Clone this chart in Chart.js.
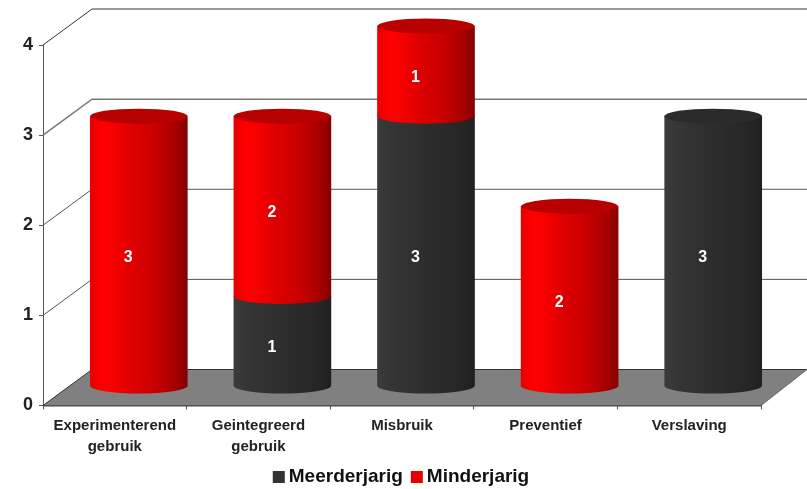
<!DOCTYPE html>
<html>
<head>
<meta charset="utf-8">
<style>html,body{margin:0;padding:0;background:#fff}canvas{display:block}</style>
<script src="https://cdn.jsdelivr.net/npm/chart.js@4/dist/chart.umd.min.js"></script>
</head>
<body>
<canvas id="c" width="807" height="489"></canvas>
<script>
const categories = [["Experimenterend","gebruik"],["Geintegreerd","gebruik"],"Misbruik","Preventief","Verslaving"];
const meerderjarig = [0,1,3,0,3];
const minderjarig = [3,2,1,2,0];
const yTicks = [0,1,2,3,4];
const FONT = '"Liberation Sans", Arial, sans-serif';
const DX = 24, DY = -19, WALLX = 49, WALLY = -36, RY = 7.5, BARW = 97;
const RED = ['#e60000','#ff0000','#fa0000','#dc0000','#cc0000','#ac0000','#880000'];
const DARK = ['#3a3a3a','#363636','#333333','#2e2e2e','#2a2a2a','#262626','#202020'];
const LEGEND_COLORS = ['#333333','#e60000'];

function grad(ctx, cx, stops){
  const g = ctx.createLinearGradient(cx-BARW/2,0,cx+BARW/2,0);
  const pos = [0,0.12,0.22,0.45,0.65,0.85,1];
  stops.forEach((c,i)=>g.addColorStop(pos[i],c));
  return g;
}
function barFill(stops){
  return function(context){
    const s = context.chart.scales.x;
    if(!s || context.dataIndex===undefined || !isFinite(s.getPixelForValue(context.dataIndex))) return stops[2];
    return grad(context.chart.ctx, s.getPixelForValue(context.dataIndex), stops);
  };
}
const scene = {
  id:'scene',
  beforeDatasetsDraw(chart){
    const {ctx, scales:{x,y}} = chart;
    const L=x.left, R=x.right, y0=y.getPixelForValue(0);
    ctx.save();
    ctx.fillStyle='#808080';
    ctx.beginPath();
    ctx.moveTo(L,y0);ctx.lineTo(L+WALLX,y0+WALLY);ctx.lineTo(807,y0+WALLY);ctx.lineTo(R,y0);ctx.closePath();
    ctx.fill();
    ctx.lineWidth=1;
    ctx.strokeStyle='#444';
    ctx.beginPath();
    ctx.moveTo(R,y0+0.5);ctx.lineTo(L,y0+0.5);
    ctx.stroke();
    yTicks.forEach(v=>{
      const p=y.getPixelForValue(v);
      ctx.strokeStyle = v===4||v===0 ? '#333' : (v===3?'#777':'#555');
      ctx.lineWidth = v===3?1.5:1;
      ctx.beginPath();
      ctx.moveTo(L,p);ctx.lineTo(L+WALLX,p+WALLY);ctx.lineTo(807,p+WALLY);
      ctx.stroke();
    });
    ctx.strokeStyle='#666';ctx.lineWidth=1;
    ctx.beginPath();ctx.moveTo(R,y0);ctx.lineTo(807,y0+WALLY);ctx.stroke();
    ctx.restore();
    ctx.save();
    ctx.translate(DX,DY);
  },
  afterDatasetsDraw(chart){
    const {ctx} = chart;
    const sets = chart.data.datasets;
    sets.forEach((ds,di)=>{
      const stops = di===0?DARK:RED;
      chart.getDatasetMeta(di).data.forEach((el,i)=>{
        if(!ds.data[i]) return;
        ctx.fillStyle = grad(ctx, el.x, stops);
        ctx.beginPath();
        ctx.ellipse(el.x, el.base, BARW/2, RY, 0, 0, Math.PI*2);
        ctx.fill();
        const higher = sets.slice(di+1).some(o=>o.data[i]);
        if(!higher){
          ctx.fillStyle = di===0?'#2b2b2b':'#b80000';
          ctx.beginPath();
          ctx.ellipse(el.x, el.y, BARW/2, RY, 0, 0, Math.PI*2);
          ctx.fill();
        }
      });
    });
    ctx.restore();
    ctx.save();
    ctx.fillStyle='#fff';
    ctx.font='bold 16px '+FONT;
    ctx.textAlign='center';ctx.textBaseline='middle';
    sets.forEach((ds,di)=>{
      chart.getDatasetMeta(di).data.forEach((el,i)=>{
        if(!ds.data[i]) return;
        ctx.fillText(String(ds.data[i]), el.x+13.5, (el.y+el.base)/2-12.5);
      });
    });
    ctx.restore();
  },
  afterDraw(chart){
    const {ctx, legend} = chart;
    if(!legend || !legend.legendHitBoxes) return;
    ctx.save();
    legend.legendHitBoxes.forEach((h,i)=>{
      ctx.fillStyle = LEGEND_COLORS[i];
      ctx.fillRect(h.left, h.top+h.height/2-6, 12, 12);
    });
    ctx.restore();
  }
};
new Chart(document.getElementById('c'),{
  type:'bar',
  data:{labels:categories,datasets:[
    {label:'Meerderjarig',data:meerderjarig,backgroundColor:barFill(DARK),borderWidth:0,barThickness:BARW,clip:false},
    {label:'Minderjarig',data:minderjarig,backgroundColor:barFill(RED),borderWidth:0,barThickness:BARW,clip:false}
  ]},
  options:{
    responsive:false,animation:false,
    layout:{padding:{top:45,right:5,left:0,bottom:-7.5}},
    plugins:{
      tooltip:{enabled:false},
      legend:{position:'bottom',labels:{
        boxWidth:6.5,boxHeight:12,padding:8,color:'#111',font:{family:FONT,size:19,weight:'bold'},
        generateLabels(chart){
          return chart.data.datasets.map((d,i)=>({text:d.label,fillStyle:'transparent',lineWidth:0,strokeStyle:'transparent',datasetIndex:i,fontColor:'#111'}));
        }
      }}
    },
    scales:{
      x:{stacked:true,
        afterFit(s){s.height=54;},
        grid:{drawOnChartArea:false,tickLength:4,color:'#555'},
        border:{color:'#444'},
        ticks:{color:'#222',maxRotation:0,autoSkip:false,padding:6,font:{family:FONT,size:15,weight:'bold',lineHeight:1.4}}
      },
      y:{stacked:true,min:0,max:4,
        afterFit(s){s.width=43;},
        afterBuildTicks(s){s.ticks=yTicks.map(v=>({value:v}));},
        grid:{drawOnChartArea:false,tickLength:4,color:'#555'},
        border:{color:'#555'},
        ticks:{color:'#222',padding:6,font:{family:FONT,size:18,weight:'bold'}}
      },
      rightGap:{position:'right',min:0,max:4,
        afterFit(s){s.width=41;},
        grid:{display:false},
        border:{display:false},
        ticks:{display:false}
      }
    }
  },
  plugins:[scene]
});
</script>
</body>
</html>
